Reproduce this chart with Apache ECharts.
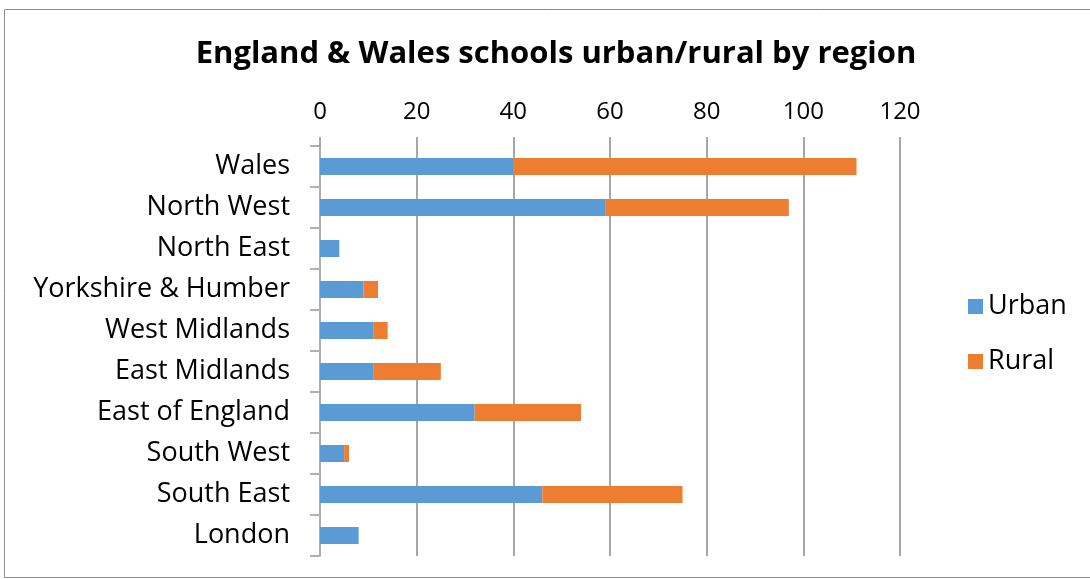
<!DOCTYPE html>
<html>
<head>
<meta charset="utf-8">
<script src="https://cdn.jsdelivr.net/npm/echarts@6/dist/echarts.min.js"></script>
<style>html,body{margin:0;padding:0;background:#fff}#c{width:1090px;height:579px}</style>
</head>
<body>
<div id="c"></div>
<script>
const categories = ["Wales","North West","North East","Yorkshire & Humber","West Midlands","East Midlands","East of England","South West","South East","London"];
const urban = [40, 59, 4, 9, 11, 11, 32, 5, 46, 8];
const rural = [71, 38, 0, 3, 3, 14, 22, 1, 29, 0];
const xTicks = [0, 20, 40, 60, 80, 100, 120];

const chart = echarts.init(document.getElementById('c'));
const font = '"Open Sans", Lato, sans-serif';
chart.setOption({
  animation: false,
  title: {
    text: 'England & Wales schools urban/rural by region',
    left: 551, top: 34, textAlign: 'center',
    textStyle: {fontFamily: font, fontWeight: 'bold', fontSize: 31, color: '#000'}
  },
  graphic: [{type: 'rect', shape: {x: 4.5, y: 9.5, width: 1100, height: 568}, style: {fill: 'none', stroke: '#8c8c8c', lineWidth: 1}, silent: true, z: -10}],
  legend: {
    orient: 'vertical', left: 963, top: 288, itemWidth: 15, itemHeight: 15, itemGap: 28,
    icon: 'rect',
    textStyle: {fontFamily: font, fontSize: 27, color: '#000'},
    data: ['Urban', 'Rural']
  },
  grid: {left: 320, right: 190, top: 146, bottom: 23, containLabel: false},
  xAxis: {
    type: 'value', position: 'top', min: xTicks[0], max: xTicks[xTicks.length - 1], interval: 20,
    axisLine: {show: false},
    axisTick: {show: true, length: 9, lineStyle: {color: '#8a8a8a', width: 1.5}},
    splitLine: {show: true, lineStyle: {color: '#8a8a8a', width: 1.5}},
    axisLabel: {fontFamily: font, fontSize: 24, color: '#000', margin: 22}
  },
  yAxis: {
    type: 'category', data: categories, inverse: true,
    axisLine: {show: true, lineStyle: {color: '#b0b0b0', width: 2}},
    axisTick: {show: true, length: 10, lineStyle: {color: '#b0b0b0', width: 2}},
    axisLabel: {fontFamily: font, fontSize: 27, color: '#000', margin: 30, padding: [3, 0, 0, 0]}
  },
  series: [
    {name: 'Urban', type: 'bar', stack: 's', data: urban, barWidth: 17, itemStyle: {color: '#5B9BD5'}},
    {name: 'Rural', type: 'bar', stack: 's', data: rural, barWidth: 17, itemStyle: {color: '#ED7D31'}}
  ]
});
</script>
</body>
</html>
